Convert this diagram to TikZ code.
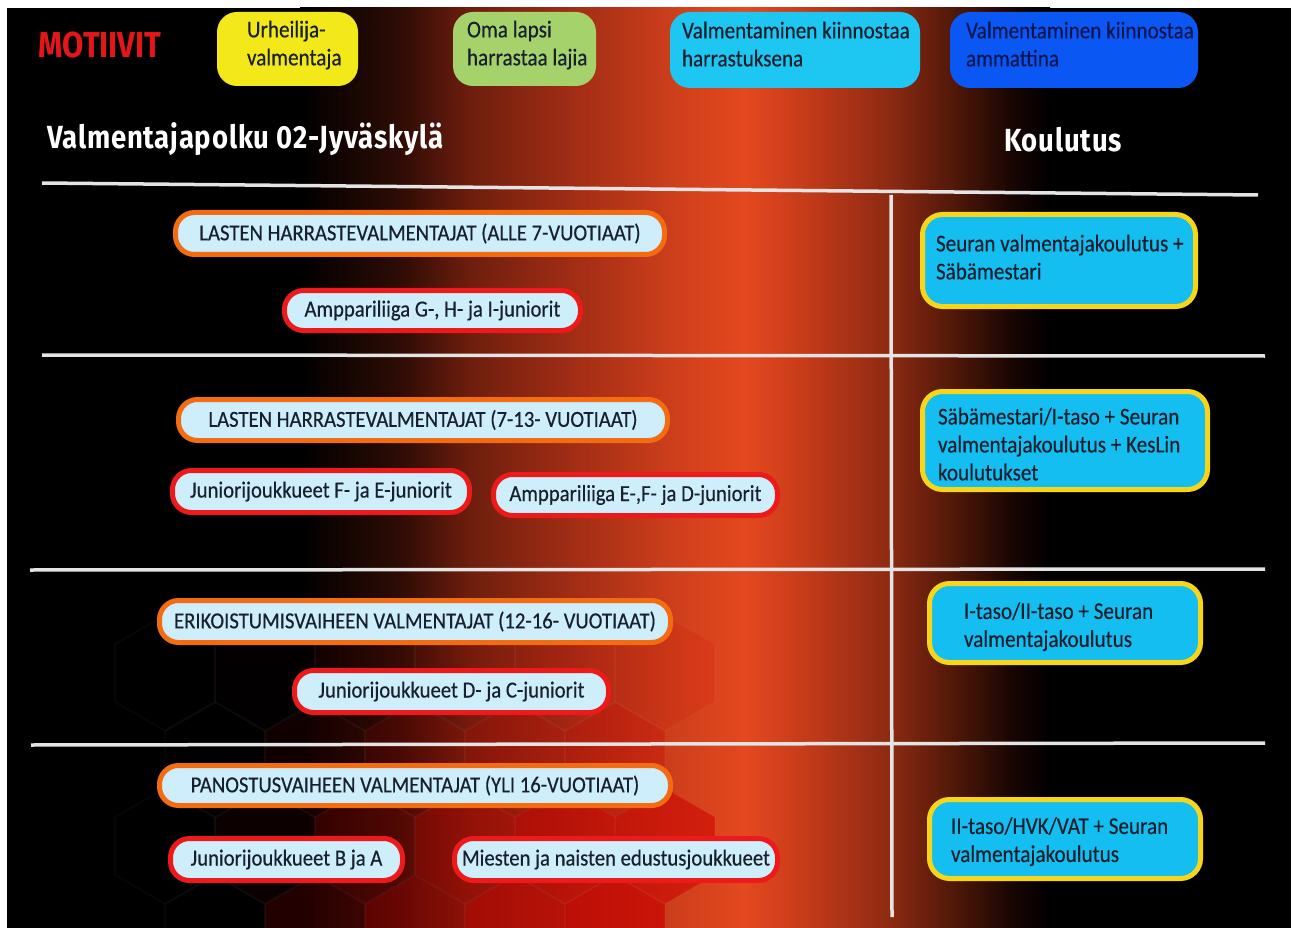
\documentclass[tikz,border=0pt]{standalone}
\usepackage{fontspec}
\setmainfont{Carlito}
\newfontfamily\headfont[FakeStretch=0.86]{Fira Sans}
\newfontfamily\titlefont[FakeStretch=0.86, LetterSpace=2.5]{Fira Sans}
\newfontfamily\cfont[FakeStretch=0.88, FakeBold=0.4]{Carlito}
\newfontfamily\pfont[FakeStretch=0.9, FakeBold=0.4]{Carlito}
\definecolor{motred}{HTML}{E3161A}
\definecolor{myellow}{HTML}{F3E81A}
\definecolor{mgreen}{HTML}{A6D26C}
\definecolor{mcyan}{HTML}{1EC6F2}
\definecolor{mblue}{HTML}{0B57F4}
\definecolor{txtdark}{HTML}{18202E}
\definecolor{navy}{HTML}{0A1650}
\definecolor{pillfill}{HTML}{CDEEFA}
\definecolor{pillorange}{HTML}{F36C12}
\definecolor{pillred}{HTML}{EC1A1A}
\definecolor{kcyan}{HTML}{14BEF0}
\definecolor{kyellow}{HTML}{F7D61A}
\definecolor{sepcol}{HTML}{E4E4E4}
\definecolor{g1}{HTML}{2E0C05}
\definecolor{g2}{HTML}{6E1E0E}
\definecolor{g3}{HTML}{A52E15}
\definecolor{g4}{HTML}{D0401C}
\definecolor{g5}{HTML}{E4481F}
\definecolor{g6}{HTML}{C83C1A}
\definecolor{g7}{HTML}{8C2A12}
\definecolor{g8}{HTML}{4A1608}
\definecolor{g9}{HTML}{1A0603}
\tikzset{
  motbox/.style={rounded corners=20pt, inner ysep=0pt, align=flush left, text depth=40pt,
    font=\cfont\fontsize{24}{28}\selectfont, text=txtdark},
  pillO/.style={draw=pillorange, line width=5pt, fill=pillfill, rounded corners=19pt,
    inner sep=0pt, font=\pfont\fontsize{23}{23}\selectfont, text=txtdark},
  pillR/.style={pillO, draw=pillred},
  kbox/.style={draw=kyellow, line width=5pt, fill=kcyan, rounded corners=20pt, inner ysep=0pt,
    align=flush left, font=\cfont\fontsize{24}{28}\selectfont, text=txtdark},
  sepline/.style={draw=sepcol, line width=3.5pt},
  hexst/.style={fill=red!80!black, draw=white, draw opacity=0.025, line width=2pt}
}
\begin{document}
\begin{tikzpicture}[x=1pt,y=-1pt]
\useasboundingbox (0,0) rectangle (1291,928);
% background
\fill[white] (0,0) rectangle (1291,928);
\fill[black] (7,8) rectangle (1291,928);
\shade[left color=black, right color=g1] (300,8) rectangle (400.5,928);
\shade[left color=g1, right color=g2] (400,8) rectangle (470.5,928);
\shade[left color=g2, right color=g3] (470,8) rectangle (580.5,928);
\shade[left color=g3, right color=g4] (580,8) rectangle (680.5,928);
\shade[left color=g4, right color=g5] (680,8) rectangle (745.5,928);
\shade[left color=g5, right color=g6] (745,8) rectangle (800.5,928);
\shade[left color=g6, right color=g7] (800,8) rectangle (890.5,928);
\shade[left color=g7, right color=g8] (890,8) rectangle (960.5,928);
\shade[left color=g8, right color=g9] (960,8) rectangle (1010.5,928);
\shade[left color=g9, right color=black] (1010,8) rectangle (1050,928);
% honeycomb
\begin{scope}
\clip (7,8) rectangle (1291,928);
\foreach \row/\cy/\off/\rf/\kmax in {0/673/265/0.12/4,1/760/315/0.3/3,2/846/265/0.55/4,3/933/315/0.65/3}{
  \foreach \k in {-1,...,\kmax}{
    \pgfmathsetmacro{\cx}{\off+100*\k}
    \pgfmathsetmacro{\op}{\rf*max(0,min(1,(\cx-230)/330))}
    \path[hexst, fill opacity=\op] (\cx,\cy) +(90:57.7) -- +(150:57.7) -- +(210:57.7)
      -- +(270:57.7) -- +(330:57.7) -- +(30:57.7) -- cycle;
  }
}
\end{scope}
% separator lines
\draw[sepline] (42,183) -- (1258,195);
\draw[sepline] (42,355) -- (1265,356);
\draw[sepline] (30,570) -- (1265,569);
\draw[sepline] (31,745) -- (1265,743);
\draw[sepline] (891,195) -- (892,917);
% header
\node[text=motred, font=\headfont\bfseries\fontsize{36}{36}\selectfont] (motiivit) at (100,45) {MOTIIVIT};
\node[motbox, fill=myellow, minimum height=74pt, inner xsep=30pt, text width=81pt] (m1) at (287.5,49) {\mbox{Urheilija-}\\\mbox{valmentaja}};
\node[motbox, fill=mgreen, minimum height=74pt, inner xsep=14pt, text width=115pt] (m2) at (524.5,49) {\mbox{Oma lapsi}\\\mbox{harrastaa lajia}};
\node[motbox, fill=mcyan, minimum height=76pt, inner xsep=12pt, text width=226pt] (m3) at (795,50) {\mbox{Valmentaminen kiinnostaa}\\\mbox{harrastuksena}};
\node[motbox, fill=mblue, minimum height=76pt, inner xsep=16pt, text width=216pt, text=navy] (m4) at (1074,50) {\mbox{Valmentaminen kiinnostaa}\\\mbox{ammattina}};
\node[text=white, font=\titlefont\bfseries\fontsize{32}{32}\selectfont, anchor=west, inner xsep=0pt] (title) at (47,139) {Valmentajapolku 02-Jyväskylä};
\node[text=white, font=\titlefont\bfseries\fontsize{32}{32}\selectfont] (koulutus) at (1063,140) {Koulutus};
% left pills
\node[pillO, minimum width=489pt, minimum height=42pt] (h1) at (420,233.5) {LASTEN HARRASTEVALMENTAJAT (ALLE 7-VUOTIAAT)};
\node[pillR, minimum width=296pt, minimum height=40pt] (s1) at (432.5,310.5) {Amppariliiga G-, H- ja I-juniorit};
\node[pillO, minimum width=489pt, minimum height=41pt] (h2) at (423,420) {LASTEN HARRASTEVALMENTAJAT (7-13- VUOTIAAT)};
\node[pillR, minimum width=297pt, minimum height=42pt] (s2a) at (321,491.5) {Juniorijoukkueet F- ja E-juniorit};
\node[pillR, minimum width=284pt, minimum height=41pt] (s2b) at (635.5,495) {Amppariliiga E-,F- ja D-juniorit};
\node[pillO, minimum width=511pt, minimum height=42pt] (h3) at (415,621.5) {ERIKOISTUMISVAIHEEN VALMENTAJAT (12-16- VUOTIAAT)};
\node[pillR, minimum width=314pt, minimum height=42pt] (s3) at (451.5,691.5) {Juniorijoukkueet D- ja C-juniorit};
\node[pillO, minimum width=511pt, minimum height=40pt] (h4) at (415,785.5) {PANOSTUSVAIHEEN VALMENTAJAT (YLI 16-VUOTIAAT)};
\node[pillR, minimum width=232pt, minimum height=42pt] (s4a) at (286.5,859.5) {Juniorijoukkueet B ja A};
\node[pillR, minimum width=323pt, minimum height=42pt] (s4b) at (616,859.5) {Miesten ja naisten edustusjoukkueet};
% right boxes
\node[kbox, minimum height=92pt, inner xsep=13.5pt, text width=246pt, text depth=35pt] (k1) at (1059,260.5) {\mbox{Seuran valmentajakoulutus +}\\\mbox{Säbämestari}};
\node[kbox, minimum height=98pt, inner xsep=15.5pt, text width=254pt, text height=24pt] (k2) at (1065,440.5) {\mbox{Säbämestari/I-taso + Seuran}\\\mbox{valmentajakoulutus + KesLin}\\\mbox{koulutukset}};
\node[kbox, minimum height=79pt, inner xsep=34.5pt, text width=202pt, text height=24pt] (k3) at (1065,623) {\mbox{I-taso/II-taso + Seuran}\\\mbox{valmentajakoulutus}};
\node[kbox, minimum height=79pt, inner xsep=21.5pt, text width=228pt, text height=22pt] (k4) at (1065,839) {\mbox{II-taso/HVK/VAT + Seuran}\\\mbox{valmentajakoulutus}};
\end{tikzpicture}
\end{document}
